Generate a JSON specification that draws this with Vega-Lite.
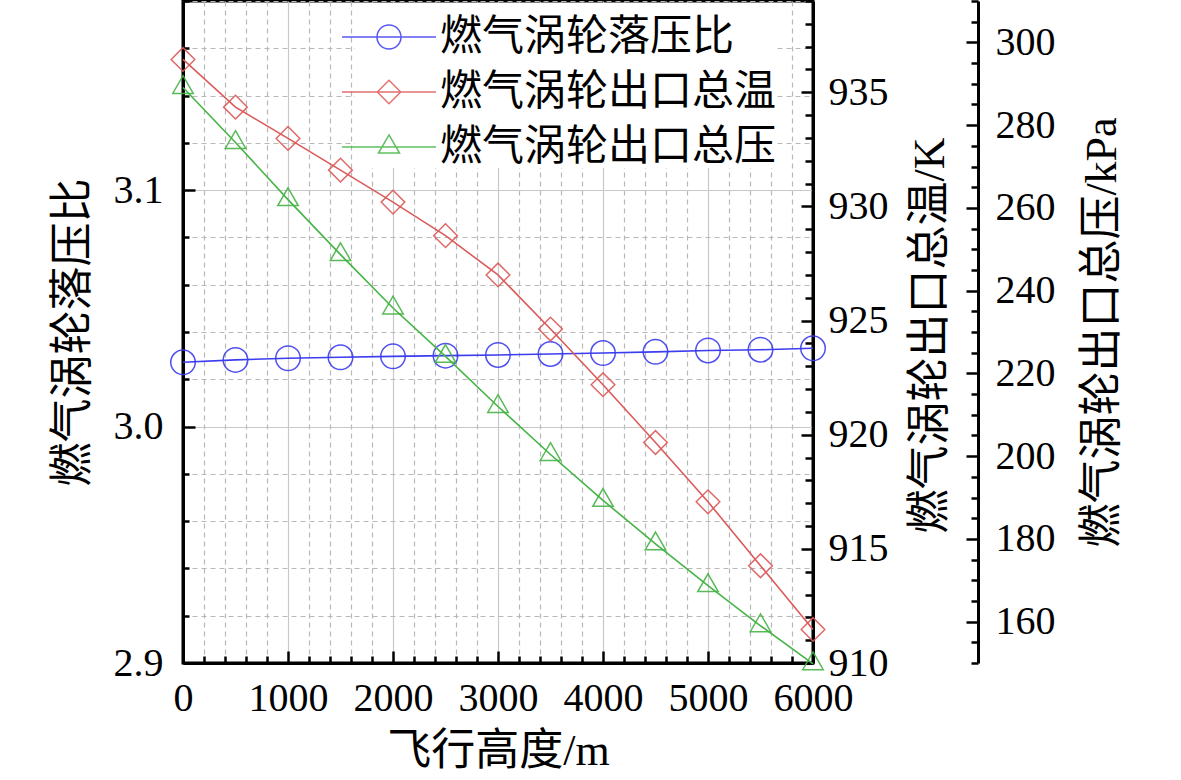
{
  "$schema": "https://vega.github.io/schema/vega-lite/v6.json",
  "autosize": "none",
  "padding": {"left": 183, "top": 1, "right": 368, "bottom": 117},
  "width": 630,
  "height": 662,
  "background": "white",
  "config": {
    "view": {"stroke": "black", "strokeWidth": 3},
    "axis": {
      "domainColor": "black", "domainWidth": 3,
      "tickColor": "black", "tickWidth": 2.5,
      "labelFont": "Liberation Serif", "labelFontSize": 40, "labelColor": "black",
      "labelFlush": false, "labelOverlap": false, "labelBound": false,
      "titleFont": "'Liberation Serif', 'Noto Sans CJK SC'", "titleFontSize": 44,
      "titleFontWeight": "normal", "titleColor": "black"
    }
  },
  "data": {
    "values": [
      {"h": 0, "name": "燃气涡轮落压比", "v": 3.0272},
      {"h": 500, "name": "燃气涡轮落压比", "v": 3.0282},
      {"h": 1000, "name": "燃气涡轮落压比", "v": 3.0289},
      {"h": 1500, "name": "燃气涡轮落压比", "v": 3.0293},
      {"h": 2000, "name": "燃气涡轮落压比", "v": 3.0297},
      {"h": 2500, "name": "燃气涡轮落压比", "v": 3.0300},
      {"h": 3000, "name": "燃气涡轮落压比", "v": 3.0303},
      {"h": 3500, "name": "燃气涡轮落压比", "v": 3.0307},
      {"h": 4000, "name": "燃气涡轮落压比", "v": 3.0311},
      {"h": 4500, "name": "燃气涡轮落压比", "v": 3.0316},
      {"h": 5000, "name": "燃气涡轮落压比", "v": 3.0322},
      {"h": 5500, "name": "燃气涡轮落压比", "v": 3.0325},
      {"h": 6000, "name": "燃气涡轮落压比", "v": 3.0331},
      {"h": 0, "name": "燃气涡轮出口总温", "v": 936.44},
      {"h": 500, "name": "燃气涡轮出口总温", "v": 934.35},
      {"h": 1000, "name": "燃气涡轮出口总温", "v": 932.98},
      {"h": 1500, "name": "燃气涡轮出口总温", "v": 931.59},
      {"h": 2000, "name": "燃气涡轮出口总温", "v": 930.19},
      {"h": 2500, "name": "燃气涡轮出口总温", "v": 928.72},
      {"h": 3000, "name": "燃气涡轮出口总温", "v": 927.00},
      {"h": 3500, "name": "燃气涡轮出口总温", "v": 924.63},
      {"h": 4000, "name": "燃气涡轮出口总温", "v": 922.19},
      {"h": 4500, "name": "燃气涡轮出口总温", "v": 919.66},
      {"h": 5000, "name": "燃气涡轮出口总温", "v": 917.06},
      {"h": 5500, "name": "燃气涡轮出口总温", "v": 914.26},
      {"h": 6000, "name": "燃气涡轮出口总温", "v": 911.47},
      {"h": 0, "name": "燃气涡轮出口总压", "v": 289.1},
      {"h": 500, "name": "燃气涡轮出口总压", "v": 275.8},
      {"h": 1000, "name": "燃气涡轮出口总压", "v": 262.0},
      {"h": 1500, "name": "燃气涡轮出口总压", "v": 248.7},
      {"h": 2000, "name": "燃气涡轮出口总压", "v": 235.8},
      {"h": 2500, "name": "燃气涡轮出口总压", "v": 224.1},
      {"h": 3000, "name": "燃气涡轮出口总压", "v": 212.0},
      {"h": 3500, "name": "燃气涡轮出口总压", "v": 200.4},
      {"h": 4000, "name": "燃气涡轮出口总压", "v": 189.3},
      {"h": 4500, "name": "燃气涡轮出口总压", "v": 178.8},
      {"h": 5000, "name": "燃气涡轮出口总压", "v": 168.7},
      {"h": 5500, "name": "燃气涡轮出口总压", "v": 159.0},
      {"h": 6000, "name": "燃气涡轮出口总压", "v": 149.8}
    ]
  },
  "encoding": {
    "x": {
      "field": "h", "type": "quantitative",
      "scale": {"domain": [0, 6000], "nice": false},
      "axis": {
        "title": "飞行高度/m",
        "titleY": 88, "titleBaseline": "middle",
        "values": [0, 200, 400, 600, 800, 1000, 1200, 1400, 1600, 1800, 2000, 2200, 2400, 2600, 2800, 3000, 3200, 3400, 3600, 3800, 4000, 4200, 4400, 4600, 4800, 5000, 5200, 5400, 5600, 5800, 6000],
        "format": "d",
        "labelExpr": "datum.value % 1000 === 0 ? datum.label : ''",
        "labelPadding": 27,
        "tickSize": {"condition": {"test": "datum.value % 1000 === 0", "value": -12}, "value": -7},
        "grid": true,
        "gridWidth": 1.2,
        "gridDash": {"condition": {"test": "datum.value % 1000 === 0", "value": []}, "value": [5, 4]},
        "gridColor": {"condition": {"test": "datum.value % 1000 === 0", "value": "#c8c8c8"}, "value": "#b8b8b8"}
      }
    }
  },
  "layer": [
    {
      "transform": [{"filter": "datum.name === '燃气涡轮落压比'"}],
      "encoding": {
        "y": {
          "field": "v", "type": "quantitative",
          "scale": {"domain": [2.9, 3.18], "nice": false, "zero": false},
          "axis": {
            "orient": "left",
            "title": "燃气涡轮落压比",
            "titleX": -110, "titleY": 331, "titleBaseline": "middle", "titleAngle": 270,
            "values": [2.9, 2.92, 2.94, 2.96, 2.98, 3.0, 3.02, 3.04, 3.06, 3.08, 3.1, 3.12, 3.14, 3.16, 3.18],
            "labelExpr": "abs(datum.value * 10 - round(datum.value * 10)) < 0.001 ? format(datum.value, '.1f') : ''",
            "labelPadding": 32,
            "tickSize": {"condition": {"test": "abs(datum.value * 10 - round(datum.value * 10)) < 0.001", "value": -12}, "value": -6},
            "grid": true,
            "gridWidth": 1.2,
            "gridDash": {"condition": {"test": "abs(datum.value * 10 - round(datum.value * 10)) < 0.001", "value": []}, "value": [5, 4]},
            "gridColor": {"condition": {"test": "abs(datum.value * 10 - round(datum.value * 10)) < 0.001", "value": "#c8c8c8"}, "value": "#b8b8b8"}
          }
        }
      },
      "layer": [
        {
          "mark": {"type": "line", "strokeWidth": 1.6},
          "encoding": {
            "color": {
              "field": "name", "type": "nominal",
              "scale": {"domain": ["燃气涡轮落压比", "燃气涡轮出口总温", "燃气涡轮出口总压"], "range": ["#3c3cf0", "#dc5a5a", "#46b446"]},
              "legend": {
                "title": null,
                "orient": "none", "legendX": 172, "legendY": 2,
                "padding": 0, "fillColor": "white",
                "symbolSize": 4356, "rowPadding": -10,
                "symbolStrokeWidth": 1.5, "symbolOpacity": 0.85,
                "labelFont": "'Liberation Serif', 'Noto Sans CJK SC'", "labelFontSize": 42,
                "labelColor": "black", "labelOffset": 17, "labelLimit": 600, "labelBaseline": "middle",
                "encode": {
                  "symbols": {
                    "update": {
                      "shape": {"signal": "datum.value === '燃气涡轮落压比' ? 'M-1.424,0H1.424M-0.364,0A0.364,0.364 0 1,1 0.364,0A0.364,0.364 0 1,1 -0.364,0' : datum.value === '燃气涡轮出口总温' ? 'M-1.424,0H1.424M-0.355,0L0,-0.355L0.355,0L0,0.355Z' : 'M-1.424,0H1.424M0,-0.367L0.318,0.184L-0.318,0.184Z'"},
                      "fill": {"value": "transparent"}
                    }
                  }
                }
              }
            }
          }
        },
        {
          "mark": {"type": "point", "shape": "circle", "filled": false, "size": 600, "strokeWidth": 1.5, "color": "#3c3cf0", "opacity": 0.9}
        }
      ]
    },
    {
      "transform": [{"filter": "datum.name === '燃气涡轮出口总温'"}],
      "encoding": {
        "y": {
          "field": "v", "type": "quantitative",
          "scale": {"domain": [910, 939], "nice": false, "zero": false},
          "axis": {
            "orient": "right",
            "title": "燃气涡轮出口总温/K",
            "titleX": 117, "titleY": 334, "titleBaseline": "middle", "titleAngle": 270,
            "values": [910, 911, 912, 913, 914, 915, 916, 917, 918, 919, 920, 921, 922, 923, 924, 925, 926, 927, 928, 929, 930, 931, 932, 933, 934, 935, 936, 937, 938, 939],
            "format": "d",
            "labelExpr": "datum.value % 5 === 0 ? datum.label : ''",
            "labelPadding": 27,
            "tickSize": {"condition": {"test": "datum.value % 5 === 0", "value": -12}, "value": -8},
            "grid": false
          }
        }
      },
      "layer": [
        {
          "mark": {"type": "line", "strokeWidth": 1.6},
          "encoding": {"color": {"field": "name", "type": "nominal"}}
        },
        {
          "mark": {"type": "point", "shape": "diamond", "filled": false, "size": 560, "strokeWidth": 1.5, "color": "#dc5a5a", "opacity": 0.9}
        }
      ]
    },
    {
      "transform": [{"filter": "datum.name === '燃气涡轮出口总压'"}],
      "encoding": {
        "y": {
          "field": "v", "type": "quantitative",
          "scale": {"domain": [150, 310], "nice": false, "zero": false},
          "axis": {
            "orient": "right", "offset": 165,
            "title": "燃气涡轮出口总压/kPa",
            "titleX": 124, "titleY": 331, "titleBaseline": "middle", "titleAngle": 270,
            "values": [150, 155, 160, 165, 170, 175, 180, 185, 190, 195, 200, 205, 210, 215, 220, 225, 230, 235, 240, 245, 250, 255, 260, 265, 270, 275, 280, 285, 290, 295, 300, 305, 310],
            "format": "d",
            "labelExpr": "datum.value % 20 === 0 ? datum.label : ''",
            "labelPadding": 29,
            "tickSize": {"condition": {"test": "datum.value % 20 === 0", "value": -12}, "value": -7},
            "grid": false
          }
        }
      },
      "layer": [
        {
          "mark": {"type": "line", "strokeWidth": 1.6},
          "encoding": {"color": {"field": "name", "type": "nominal"}}
        },
        {
          "mark": {"type": "point", "shape": "M0,-1.155L1,0.577L-1,0.577Z", "filled": false, "size": 420, "strokeWidth": 1.5, "color": "#46b446", "opacity": 0.9}
        }
      ]
    }
  ],
  "resolve": {"scale": {"y": "independent"}}
}
